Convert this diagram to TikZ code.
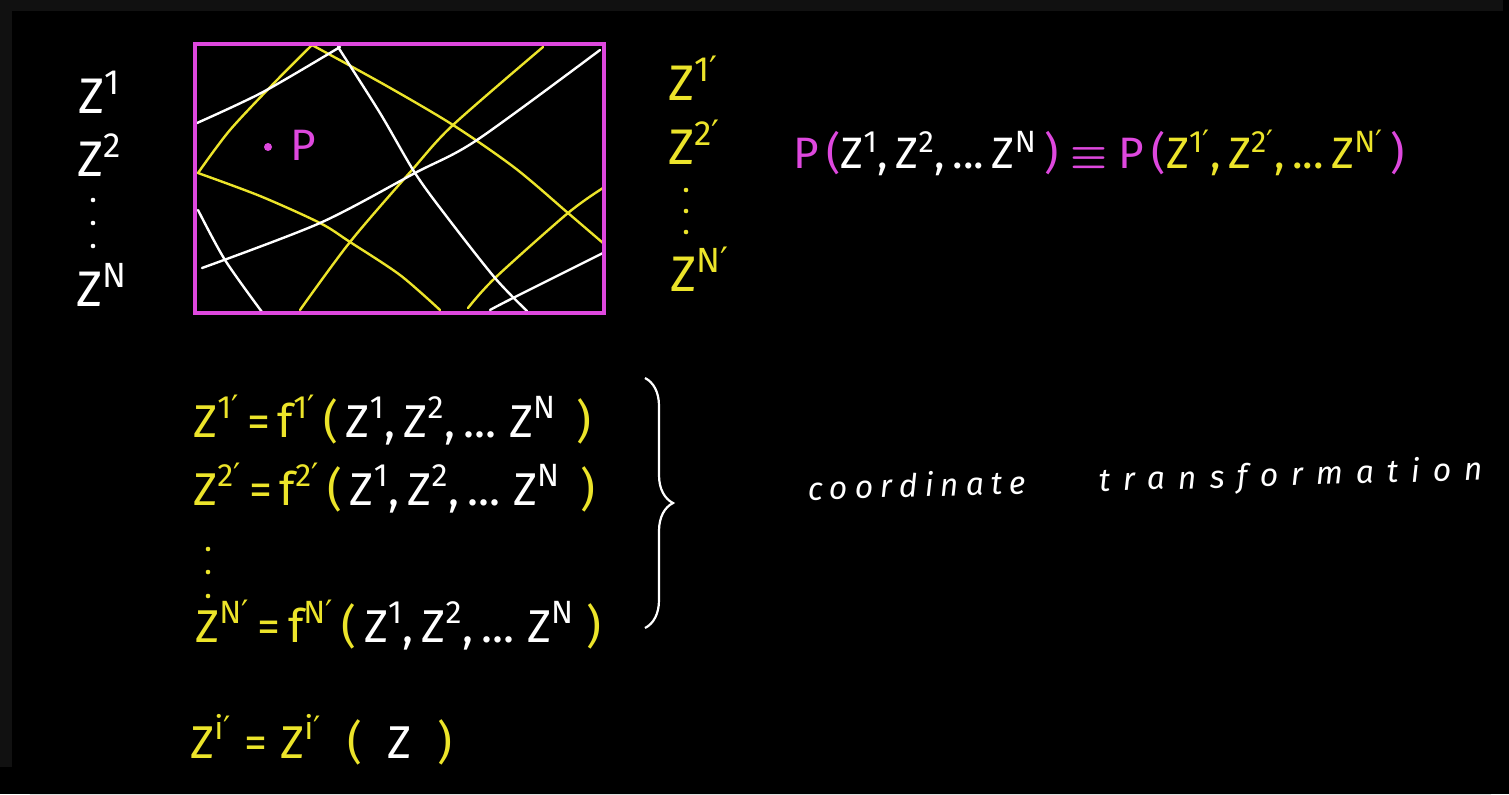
\documentclass[tikz,border=0pt]{standalone}
\usepackage{fontspec}
\setmainfont{Fira Sans}
\newfontfamily\handfont[LetterSpace=22]{Fira Sans}
\newfontfamily\handwide[LetterSpace=40]{Fira Sans}
\newfontfamily\primefont{DejaVu Sans}
\usetikzlibrary{decorations.pathreplacing}
\definecolor{chalkyellow}{RGB}{236,228,42}
\definecolor{chalkpink}{RGB}{222,72,222}
\definecolor{boardgrey}{RGB}{17,17,17}
\newcommand{\Zs}[1]{Z\textsuperscript{#1}}
\newcommand{\pr}{{\primefont ′}}

\begin{document}
\begin{tikzpicture}[x=0.5pt,y=-0.5pt,
    wcurve/.style={white, line width=1.2pt, line cap=round},
    ycurve/.style={chalkyellow, line width=1.2pt, line cap=round},
    chalk/.style={inner sep=0pt, anchor=base west, font=\fontsize{23}{27}\selectfont},
    biglbl/.style={chalk, font=\fontsize{25}{30}\selectfont},
    eqtop/.style={chalk, font=\fontsize{22}{26}\selectfont}
]
\useasboundingbox (0,0) rectangle (1509,794);
% board
\fill[black] (0,0) rectangle (1509,794);
\fill[boardgrey] (0,0) rectangle (1503,11);
\fill[boardgrey] (0,0) rectangle (12,767);
\fill[black, rounded corners=9pt] (12,794) -- (12,11) -- (1509,11) -- (1509,794) -- cycle;

% region with the two coordinate grids
\draw[ycurve] plot[smooth] coordinates {(198,173) (230,130) (277,80) (312,45)};
\draw[ycurve] plot[smooth] coordinates {(312,45) (385,85) (453,125) (515,168) (568,213) (603,243)};
\draw[ycurve] plot[smooth] coordinates {(198,173) (260,196) (320,223) (350,242) (400,275) (440,310)};
\draw[ycurve] plot[smooth] coordinates {(543,47) (453,125) (412,170) (350,242) (300,310)};
\draw[ycurve] plot[smooth] coordinates {(603,188) (568,213) (495,278) (468,308)};
\draw[wcurve] plot[smooth] coordinates {(197,123) (263,92) (340,47)};
\draw[wcurve] plot[smooth] coordinates {(338,47) (380,113) (415,173) (447,217) (495,278) (527,311)};
\draw[wcurve] plot[smooth] coordinates {(202,268) (320,223) (415,173) (477,140) (600,50)};
\draw[wcurve] plot[smooth] coordinates {(198,210) (225,260) (262,312)};
\draw[wcurve] plot[smooth] coordinates {(490,310) (513,298) (603,253)};
\draw[chalkpink, line width=1.6pt] (195,44) rectangle (604,313);
\fill[chalkpink] (268,147) circle (4);
\node[eqtop, chalkpink] (pt) at (290,160) {P};

% old coordinates
\node[biglbl, white] (zl1) at (78,113) {\Zs{1}};
\node[biglbl, white] (zl2) at (77,176) {\Zs{2}};
\foreach \yy in {200,223,246} \fill[white] (93,\yy) circle (2.3);
\node[biglbl, white] (zln) at (76,306) {\Zs{N}};

% new coordinates
\node[biglbl, chalkyellow] (zr1) at (668,100) {\Zs{1\pr}};
\node[biglbl, chalkyellow] (zr2) at (668,164) {\Zs{2\pr}};
\foreach \yy in {190,211,232} \fill[chalkyellow] (686,\yy) circle (2.3);
\node[biglbl, chalkyellow] (zrn) at (670,291) {\Zs{N\pr}};

\node[eqtop] (pdef) at (793,168) {{\color{chalkpink}P\,(}{\color{white}\Zs{1},\,\Zs{2},\,...\,\Zs{N}}{\color{chalkpink}\,)~{\boldmath$\equiv$}~P\,(}{\color{chalkyellow}\Zs{1\pr},\,\Zs{2\pr},\,...\,\Zs{N\pr}}{\color{chalkpink}\,)}};

% the transformation
\node[chalk] (eq1) at (193,437) {{\color{chalkyellow}\Zs{1\pr}\,=\,f\textsuperscript{1\pr}\,(\,}{\color{white}\Zs{1},\,\Zs{2},\,...\;\Zs{N}}{\color{chalkyellow}\;\,)}};
\node[chalk] (eq2) at (193,505) {{\color{chalkyellow}\Zs{2\pr}\,=\,f\textsuperscript{2\pr}\,(\,}{\color{white}\Zs{1},\,\Zs{2},\,...\;\Zs{N}}{\color{chalkyellow}\;\,)}};
\foreach \yy in {549,572,596} \fill[chalkyellow] (208,\yy) circle (2.3);
\node[chalk] (eqn) at (195,642) {{\color{chalkyellow}\Zs{N\pr}\,=\,f\textsuperscript{N\pr}\,(\,}{\color{white}\Zs{1},\,\Zs{2},\,...\;\Zs{N}}{\color{chalkyellow}\;)}};
\draw[white, line width=1.1pt, decorate, decoration={brace, amplitude=14pt}] (645,378) -- (645,628);
\node[white, inner sep=0pt, anchor=base west, rotate=1.7, font=\handfont\itshape\fontsize{16}{20}\selectfont] (ct) at (808,500) {coordinate\hspace{2.3em}{\handwide transformation}};

\node[chalk] (eqi) at (190,758) {{\color{chalkyellow}\Zs{i\pr}\;=\;\Zs{i\pr}\;\;(\;\;}{\color{white}Z}{\color{chalkyellow}\;\;)}};
\end{tikzpicture}
\end{document}
